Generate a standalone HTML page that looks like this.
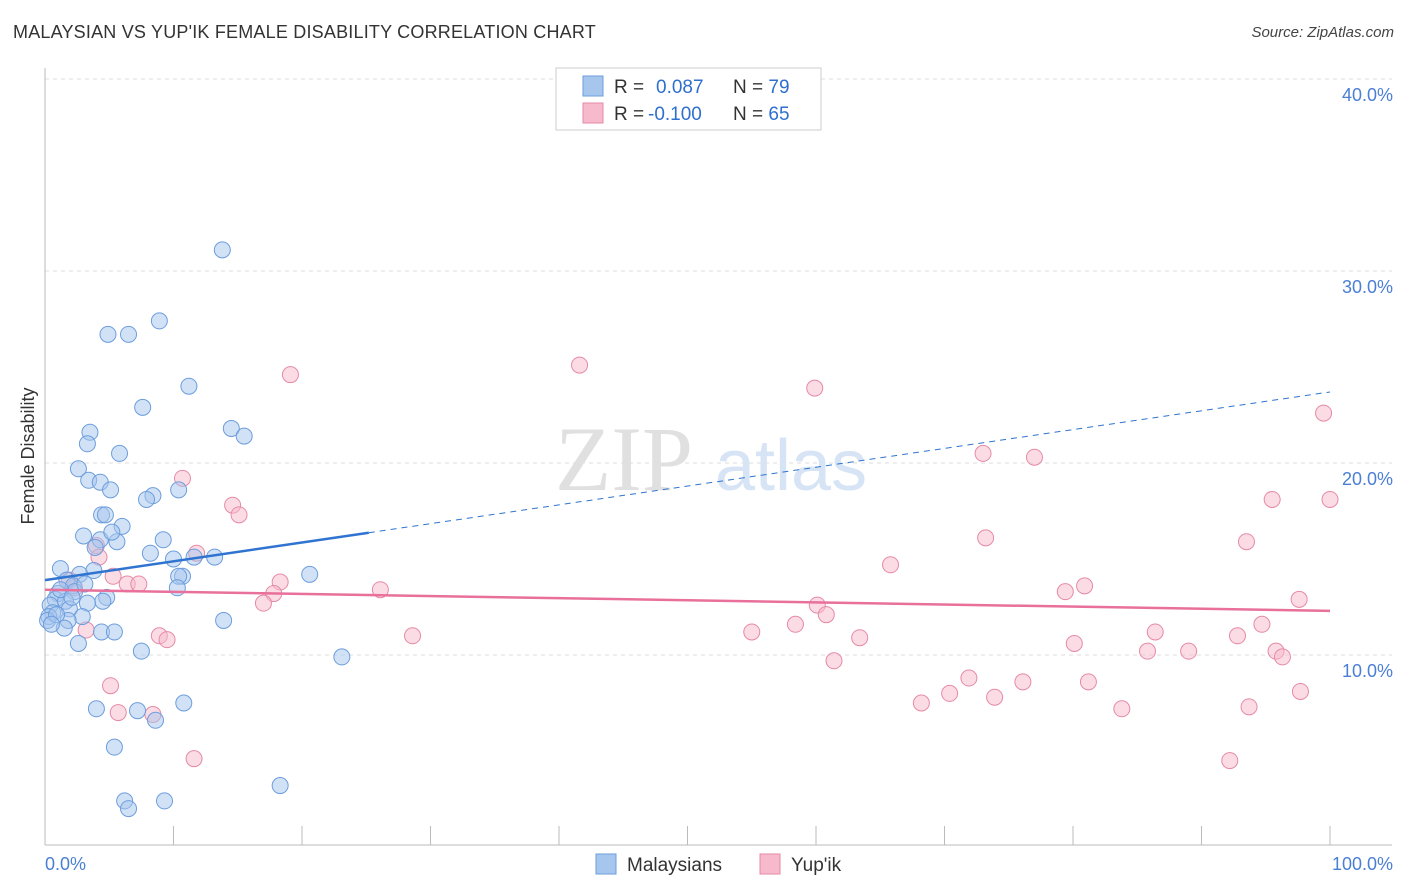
<!DOCTYPE html>
<html><head><meta charset="utf-8">
<style>
body{margin:0;background:#fff;font-family:"Liberation Sans",sans-serif;}
#wrap{position:relative;width:1406px;height:892px;overflow:hidden;}
.title{position:absolute;left:13px;top:22px;font-size:18px;color:#333;letter-spacing:0.2px}
.source{position:absolute;right:12px;top:24px;font-size:15px;color:#444;font-style:italic}
</style></head><body>
<div id="wrap">
<div class="title">MALAYSIAN VS YUP'IK FEMALE DISABILITY CORRELATION CHART</div>
<div class="source">Source: ZipAtlas.com</div>
<svg id="chart" width="1406" height="892" style="position:absolute;left:0;top:0"></svg>
</div>
<script>
const blueX=[13.8,8.9,4.9,6.5,11.2,7.6,14.5,15.5,3.5,3.3,5.8,2.6,3.4,4.3,5.1,8.4,7.9,10.4,4.4,4.7,6.0,3.0,4.3,5.6,9.2,5.2,3.9,8.2,10.0,13.2,11.6,1.2,3.8,2.7,1.7,10.7,10.4,20.6,10.3,2.2,2.3,4.8,4.5,1.0,0.8,0.4,1.6,3.3,1.9,0.6,0.3,2.9,1.8,1.5,4.4,5.4,13.9,2.6,7.5,23.1,4.0,7.2,10.8,8.6,5.4,6.2,6.5,9.3,18.3,0.2,0.9,1.2,2.1,3.1,0.5];
const blueY=[31.1,27.4,26.7,26.7,24.0,22.9,21.8,21.4,21.6,21.0,20.5,19.7,19.1,19.0,18.6,18.3,18.1,18.6,17.3,17.3,16.7,16.2,16.0,15.9,16.0,16.4,15.6,15.3,15.0,15.1,15.1,14.5,14.4,14.2,13.9,14.1,14.1,14.2,13.5,13.6,13.3,13.0,12.8,13.2,12.9,12.6,12.8,12.7,12.4,12.2,12.0,12.0,11.8,11.4,11.2,11.2,11.8,10.6,10.2,9.9,7.2,7.1,7.5,6.6,5.2,2.4,2.0,2.4,3.2,11.8,12.1,13.4,13.0,13.7,11.6];
const pinkX=[41.6,19.1,59.9,99.5,10.7,73.0,77.0,95.5,100.0,14.6,15.1,73.2,93.5,4.0,11.8,4.2,65.8,5.3,6.4,7.3,18.3,26.1,17.8,80.9,79.4,17.0,60.1,60.8,97.6,94.7,58.4,55.0,28.6,63.4,8.9,9.5,3.2,86.4,92.8,80.1,85.8,89.0,95.8,96.3,61.4,71.9,76.1,81.2,70.4,73.9,68.2,83.8,93.7,97.7,5.1,5.7,8.4,11.6,92.2,1.9,2.3];
const pinkY=[25.1,24.6,23.9,22.6,19.2,20.5,20.3,18.1,18.1,17.8,17.3,16.1,15.9,15.7,15.3,15.1,14.7,14.1,13.7,13.7,13.8,13.4,13.2,13.6,13.3,12.7,12.6,12.1,12.9,11.6,11.6,11.2,11.0,10.9,11.0,10.8,11.3,11.2,11.0,10.6,10.2,10.2,10.2,9.9,9.7,8.8,8.6,8.6,8.0,7.8,7.5,7.2,7.3,8.1,8.4,7.0,6.9,4.6,4.5,13.9,13.5];
const blueTrend=[13.9,23.7];
const pinkTrend=[13.4,12.3];
const yTicks=[10,20,30,40];
const yTickLabels=["10.0%","20.0%","30.0%","40.0%"];

const NS="http://www.w3.org/2000/svg";
const svg=document.getElementById('chart');
const X0=45,X1=1330,Y0=847,PPY=19.2;
const sx=v=>X0+(X1-X0)*v/100;
const sy=v=>Y0-v*PPY;
function mk(tag,attrs,parent){const e=document.createElementNS(NS,tag);for(const k in attrs)e.setAttribute(k,attrs[k]);(parent||svg).appendChild(e);return e;}

// gridlines and y labels
yTicks.forEach((t,i)=>{
  const g=mk('line',{x1:45,x2:1392,y1:sy(t),y2:sy(t),stroke:'#dcdcdc','stroke-dasharray':'4,4'});
  
  
  const tx=mk('text',{x:1393,y:sy(t)+22,'text-anchor':'end','font-size':18,fill:'#4a7fd4','font-family':'Liberation Sans, sans-serif'});
  tx.textContent=yTickLabels[i];
  
  
});
// axes
const ax=mk('line',{x1:45,x2:1392,y1:845,y2:845,stroke:'#bbb'});


const ay=mk('line',{x1:45,x2:45,y1:68,y2:845,stroke:'#bbb'});


for(let i=0;i<=10;i++){
  const t=mk('line',{x1:sx(i*10),x2:sx(i*10),y1:826,y2:845,stroke:'#bbb'});
  
  
}
// watermark
const wm=mk('text',{x:555,y:490,'font-size':92,fill:'#e0e0e0','font-family':'Liberation Serif, serif'});
wm.textContent='ZIP';


const wm2=mk('text',{x:715,y:490,'font-size':72,fill:'#d6e4f5','font-family':'Liberation Sans, sans-serif'});
wm2.textContent='atlas';



// points
function pts(xs,ys,fill,stroke,name){
  xs.forEach((x,i)=>{
    const c=mk('circle',{cx:sx(x),cy:sy(ys[i]),r:8,fill:fill,'fill-opacity':0.5,stroke:stroke,'stroke-width':1});
    
    
  });
}
pts(pinkX,pinkY,'#f7b9cc','#e68aa6','yupik-point');
pts(blueX,blueY,'#a6c6ee','#6c9ddd','malaysian-point');

// trend lines
const bxEnd=25.2;
const byAt=x=>blueTrend[0]+(blueTrend[1]-blueTrend[0])*x/100;
const bl=mk('line',{x1:sx(0),y1:sy(byAt(0)),x2:sx(bxEnd),y2:sy(byAt(bxEnd)),stroke:'#2f74d0','stroke-width':2.5});


const bd=mk('line',{x1:sx(bxEnd),y1:sy(byAt(bxEnd)),x2:sx(100),y2:sy(byAt(100)),stroke:'#2f74d0','stroke-width':1,'stroke-dasharray':'6,5'});


const pl=mk('line',{x1:sx(0),y1:sy(pinkTrend[0]),x2:sx(100),y2:sy(pinkTrend[1]),stroke:'#e8709a','stroke-width':2.5});



// x labels
const xl0=mk('text',{x:45,y:870,'font-size':18,fill:'#4a7fd4','font-family':'Liberation Sans, sans-serif'});
xl0.textContent='0.0%';


const xl1=mk('text',{x:1393,y:870,'text-anchor':'end','font-size':18,fill:'#4a7fd4','font-family':'Liberation Sans, sans-serif'});
xl1.textContent='100.0%';


// y title
const yt=mk('text',{x:0,y:0,'font-size':18,fill:'#333','text-anchor':'middle','font-family':'Liberation Sans, sans-serif',transform:'translate(34,456) rotate(-90)'});
yt.textContent='Female Disability';



// top legend box
const lb=mk('rect',{x:556,y:68,width:265,height:62,fill:'#fff',stroke:'#ccc'});


[[0,'#a6c6ee','#6c9ddd','0.087','79'],[1,'#f7b9cc','#e68aa6','-0.100','65']].forEach(r=>{
  const y=86+r[0]*27;
  const s=mk('rect',{x:583,y:y-10,width:20,height:20,fill:r[1],stroke:r[2]});
  
  
  const t=mk('text',{x:614,y:y+7,'font-size':19,fill:'#333','font-family':'Liberation Sans, sans-serif'});
  t.innerHTML='R = <tspan fill="#2f6fd0">'+r[3]+'</tspan>';
  if(r[0]===0)t.innerHTML='R =  <tspan fill="#2f6fd0" x="656">'+r[3]+'</tspan>';
  else t.innerHTML='R = <tspan fill="#2f6fd0" x="648">'+r[3]+'</tspan>';
  
  
  const n=mk('text',{x:733,y:y+7,'font-size':19,fill:'#333','font-family':'Liberation Sans, sans-serif'});
  n.innerHTML='N = <tspan fill="#2f6fd0">'+r[4]+'</tspan>';
  
  
});
// bottom legend
[[596,'#a6c6ee','#6c9ddd','Malaysians'],[760,'#f7b9cc','#e68aa6',"Yup'ik"]].forEach(r=>{
  const s=mk('rect',{x:r[0],y:854,width:20,height:20,fill:r[1],stroke:r[2]});
  
  
  const t=mk('text',{x:r[0]+31,y:871,'font-size':19,fill:'#333','font-family':'Liberation Sans, sans-serif'});
  t.textContent=r[3];
  
  
});
</script>
</body></html>
